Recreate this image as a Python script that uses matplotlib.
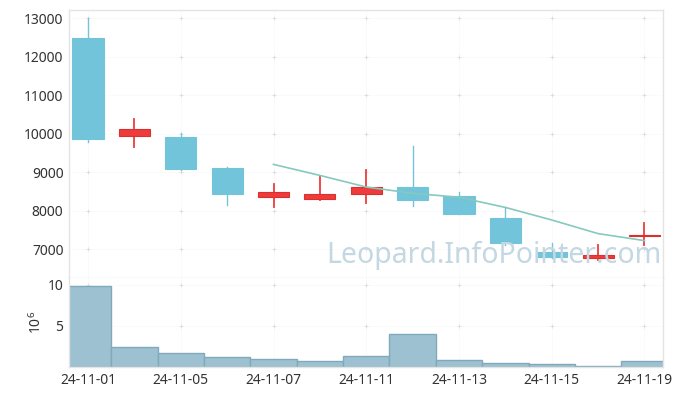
import numpy as np
import matplotlib
matplotlib.use("Agg")
import matplotlib.pyplot as plt

plt.rcParams['font.family'] = ['Noto Sans', 'DejaVu Sans']
plt.rcParams['mathtext.default'] = 'regular'

dates = ['24-11-01', '24-11-04', '24-11-05', '24-11-06', '24-11-07', '24-11-08', '24-11-11',
         '24-11-12', '24-11-13', '24-11-14', '24-11-15', '24-11-18', '24-11-19']
opens = [12470, 9940, 9910, 9100, 8360, 8310, 8440, 8600, 8370, 7800, 6930, 6760, 7350]
closes = [9860, 10120, 9090, 8440, 8480, 8430, 8610, 8280, 7920, 7160, 6800, 6840, 7370]
highs = [13000, 10390, 10020, 9130, 8700, 8860, 9040, 9670, 8470, 8080, 7150, 7100, 7680]
lows = [9790, 9650, 9040, 8150, 8080, 8260, 8190, 8110, 7900, 7100, 6760, 6710, 7100]
ma5 = [None, None, None, None, 9198, 8912, 8610, 8448, 8344, 8080, 7754, 7400, 7218]
volume = [9.85, 2.45, 1.73, 1.25, 0.92, 0.76, 1.37, 4.03, 0.88, 0.52, 0.40, 0.15, 0.76]

blue = '#72c4da'
red = '#ef3b3b'
text_col = '#333333'
frame_col = '#e4e4e4'

fig = plt.figure(figsize=(6.84, 3.96), dpi=100)
ax = fig.add_axes([0.1009, 0.298, 0.8684, 0.6767])
axv = fig.add_axes([0.1009, 0.0732, 0.8684, 0.2248])

x = np.arange(len(dates))
xt = x[::2]

# candles
for i in x:
    up = closes[i] >= opens[i]
    c = red if up else blue
    lo, hi = min(opens[i], closes[i]), max(opens[i], closes[i])
    ax.plot([i, i], [lows[i], highs[i]], color=c, lw=1.3 if up else 1.0, zorder=3)
    ax.bar(i, max(hi - lo, 25), bottom=lo, width=0.67, color=c,
           edgecolor='#d93030' if up else c, linewidth=0.8, zorder=4)

ma_x = [i for i in x if ma5[i] is not None]
ma_y = [ma5[i] for i in ma_x]
ax.plot(ma_x, ma_y, color='#86c9bd', lw=1.2, zorder=5)

ax.set_xlim(-0.41, 12.4)
ax.set_ylim(6247, 13208)
ax.set_yticks([7000, 8000, 9000, 10000, 11000, 12000, 13000])
ax.set_xticks(xt)
ax.set_xticklabels([])

ax.text(0.997, 0.03, 'Leopard.InfoPointer.com', transform=ax.transAxes, ha='right',
        va='bottom', fontsize=20.5, color='#c3d8e3', zorder=6)

# volume
axv.bar(x, volume, width=1.0, color='#9dc1d1', edgecolor='#80a9bc', linewidth=1, zorder=2)
axv.set_xlim(-0.41, 12.4)
axv.set_ylim(0, 10.85)
axv.set_yticks([5, 10])
axv.set_xticks(xt)
axv.set_xticklabels([dates[i] for i in xt])
axv.set_ylabel('$10^6$', color=text_col, fontsize=10, labelpad=0)
axv.yaxis.set_label_coords(-0.04, 0.5)

for a in (ax, axv):
    a.tick_params(length=0, labelsize=10, colors=text_col, pad=4)
    for s in a.spines.values():
        s.set_color(frame_col)
        s.set_linewidth(1)
    a.grid(True, color='#000000', alpha=0.02, lw=0.8, zorder=6)
    gx, gy = np.meshgrid(a.get_xticks(), a.get_yticks())
    a.scatter(gx.ravel(), gy.ravel(), marker='+', s=10, color='#e2e2e2', lw=0.6, zorder=1)
axv.spines['top'].set_visible(False)

fig.savefig('out.png', dpi=100)
